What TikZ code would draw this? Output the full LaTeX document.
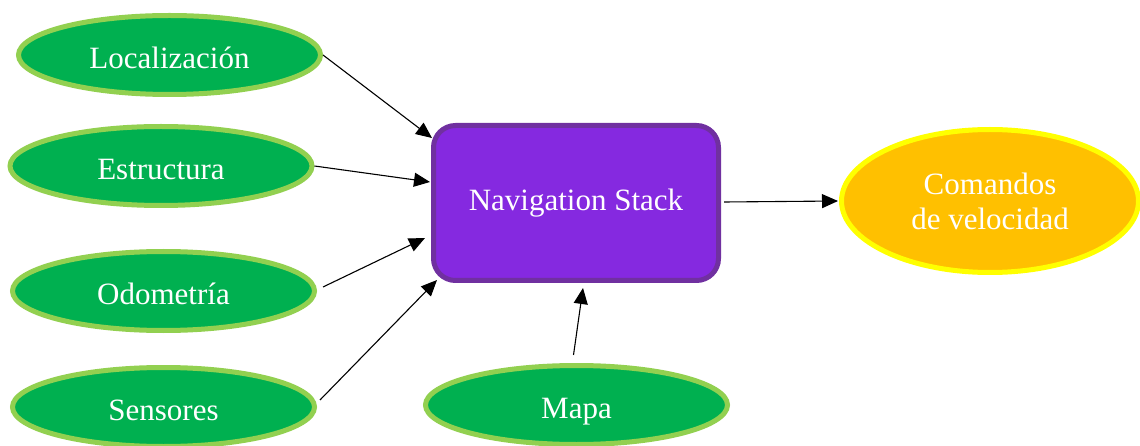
\documentclass[tikz,border=0pt]{standalone}
\usepackage{fontspec}
\setmainfont{Liberation Serif}
\usetikzlibrary{shapes.geometric,arrows.meta,calc}
\definecolor{ovalgreen}{HTML}{00B050}
\definecolor{ovalborder}{HTML}{92D050}
\definecolor{navfill}{HTML}{8529E0}
\definecolor{navborder}{HTML}{7030A0}
\definecolor{cmdfill}{HTML}{FFC000}
\definecolor{cmdborder}{HTML}{FFFF00}
\tikzset{
  inoval/.style={ellipse, draw=ovalborder, fill=ovalgreen, line width=5pt,
    minimum width=302pt, minimum height=79pt, inner sep=0pt,
    text=white, font=\rmfamily\fontsize{31}{35}\selectfont, text height=27pt, text depth=0pt},
  navbox/.style={rectangle, rounded corners=22pt, draw=navborder, fill=navfill,
    line width=5pt, minimum width=285pt, minimum height=155pt, inner sep=0pt,
    text=white, font=\rmfamily\fontsize{31}{35}\selectfont},
  outoval/.style={ellipse, draw=cmdborder, fill=cmdfill, line width=5pt,
    minimum width=297pt, minimum height=143pt, inner sep=0pt,
    text=white, font=\rmfamily\fontsize{31}{35}\selectfont, align=center},
  conn/.style={line width=1.1pt, -{Triangle[length=16pt,width=14pt]}}
}
\begin{document}
\begin{tikzpicture}[x=1pt,y=1pt]
\useasboundingbox (0,0) rectangle (1140,-446);
\node[inoval] (loc) at (169.5,-55) {Localización};
\node[inoval] (est) at (161,-166) {Estructura};
\node[inoval] (odo) at (163.5,-291) {Odometría};
\node[inoval] (sen) at (163.5,-407) {Sensores};
\node[inoval] (map) at (576.5,-405) {Mapa};
\node[navbox] (nav) at (576,-203) {Navigation Stack};
\node[outoval] (cmd) at (990,-201) {Comandos\\de velocidad};
\coordinate (t1) at ($(nav.center)+(-144,65)$);
\coordinate (t2) at ($(nav.center)+(-146,21)$);
\coordinate (t3) at ($(nav.center)+(-151,-35)$);
\coordinate (t4) at ($(nav.center)+(-139,-77)$);
\coordinate (t5) at ($(nav.center)+(7,-85)$);
\coordinate (s3) at ($(odo.east)+(6,4)$);
\coordinate (s4) at ($(sen.east)+(3,7)$);
\coordinate (s5) at ($(map.north)+(-3,8)$);
\coordinate (s6) at ($(nav.east)+(3,1)$);
\coordinate (t6) at ($(cmd.west)+(-1,0)$);
\draw[conn] (loc.east) -- (t1);
\draw[conn] (est.east) -- (t2);
\draw[conn] (s3) -- (t3);
\draw[conn] (s4) -- (t4);
\draw[conn] (s5) -- (t5);
\draw[conn] (s6) -- (t6);
\end{tikzpicture}
\end{document}
